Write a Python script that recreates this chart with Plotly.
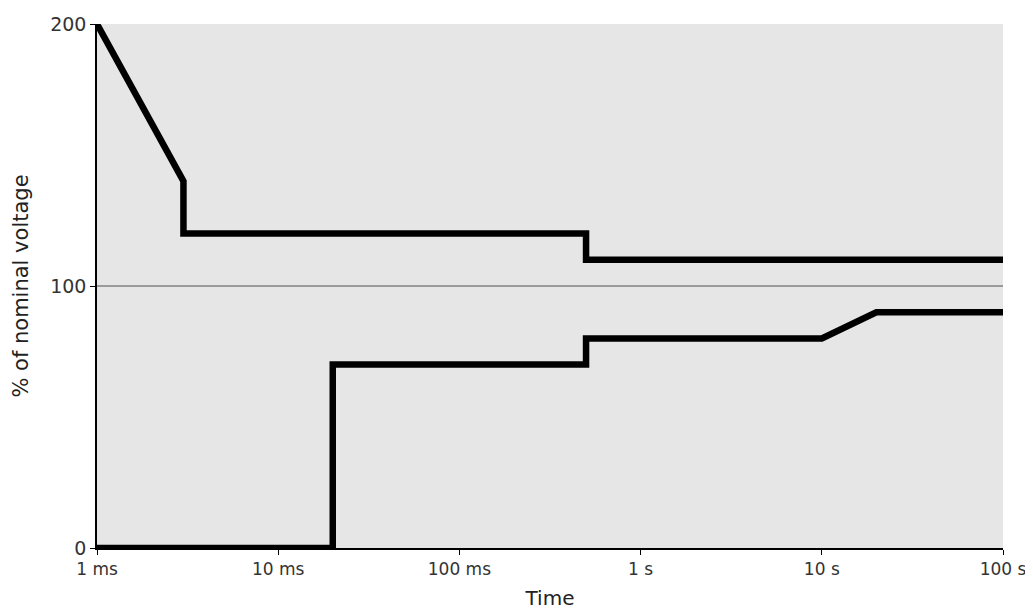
import plotly.graph_objects as go

# Data
upper_t = [0.001, 0.003, 0.003, 0.5, 0.5, 100]
upper_v = [200, 140, 120, 120, 110, 110]
lower_t = [0.001, 0.02, 0.02, 0.5, 0.5, 10, 20, 100]
lower_v = [0, 0, 70, 70, 80, 80, 90, 90]
x_tickvals = [0.001, 0.01, 0.1, 1, 10, 100]
x_ticktext = ["1 ms", "10 ms", "100 ms", "1 s", "10 s", "100 s"]
y_tickvals = [0, 100, 200]
nominal = 100

font_family = "'DejaVu Sans', sans-serif"

fig = go.Figure()
fig.add_trace(go.Scatter(x=upper_t, y=upper_v, mode="lines",
                         line=dict(color="black", width=6.5), showlegend=False,
                         hoverinfo="skip"))
fig.add_trace(go.Scatter(x=lower_t, y=lower_v, mode="lines",
                         line=dict(color="black", width=6.5), showlegend=False,
                         hoverinfo="skip"))

fig.add_shape(type="line", xref="paper", x0=0, x1=1, yref="y", y0=nominal, y1=nominal,
              line=dict(color="#808080", width=1.5), layer="below")

fig.update_layout(
    width=1025, height=602,
    margin=dict(l=89, r=30, t=16, b=62),
    paper_bgcolor="white",
    plot_bgcolor="#e6e6e6",
    font=dict(family=font_family, size=15, color="#333333"),
    xaxis=dict(
        type="log", range=[-3, 2],
        tickvals=x_tickvals, ticktext=x_ticktext,
        showgrid=False, zeroline=False,
        showline=True, linecolor="black", linewidth=1.5,
        ticks="outside", ticklen=5, tickcolor="black", tickwidth=1,
        tickfont=dict(size=17, color="#333333"),
        title=dict(text="Time", font=dict(size=20, color="#222222"), standoff=14),
        automargin=False,
    ),
    yaxis=dict(
        range=[0, 200],
        tickvals=y_tickvals,
        showgrid=False, zeroline=False,
        showline=True, linecolor="black", linewidth=1.5,
        ticks="outside", ticklen=5, tickcolor="black", tickwidth=1,
        tickfont=dict(size=19, color="#333333"),
        title=dict(text="% of nominal voltage", font=dict(size=21, color="#222222"), standoff=16),
        automargin=False,
    ),
)

fig.write_html("out.html")
